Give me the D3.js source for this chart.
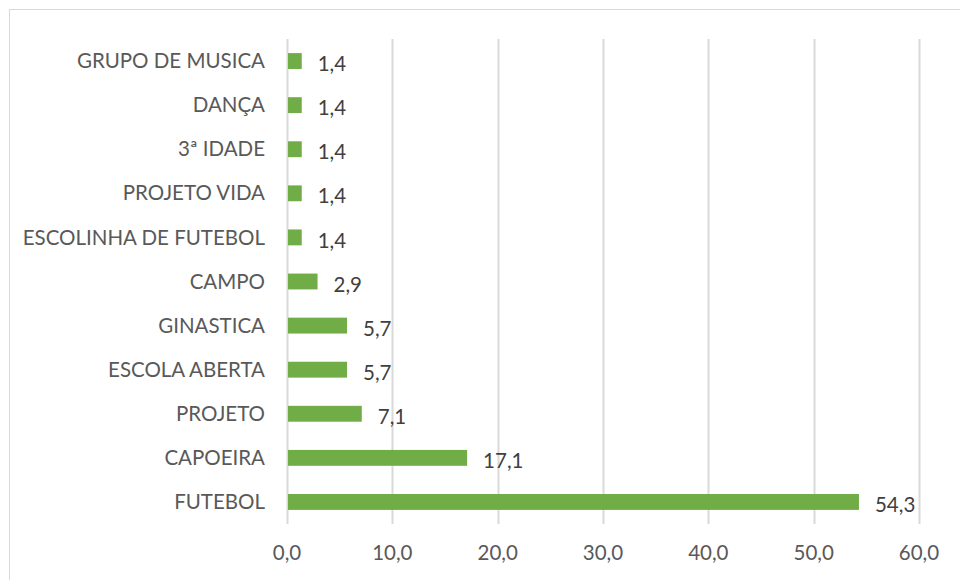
<!DOCTYPE html>
<html>
<head>
<meta charset="utf-8">
<script src="https://cdn.jsdelivr.net/npm/d3@7"></script>
<style>
  body { margin: 0; background: #fff; }
  text { font-family: Lato, "Open Sans", sans-serif; }
</style>
</head>
<body>
<div class="chart"></div>
<script>
var categories = ["GRUPO DE MUSICA", "DANÇA", "3ª IDADE", "PROJETO VIDA", "ESCOLINHA DE FUTEBOL",
  "CAMPO", "GINASTICA", "ESCOLA ABERTA", "PROJETO", "CAPOEIRA", "FUTEBOL"];
var values = [1.4, 1.4, 1.4, 1.4, 1.4, 2.9, 5.7, 5.7, 7.1, 17.1, 54.3];
var ticks = [0, 10, 20, 30, 40, 50, 60];

var svgWidth = 960;
var svgHeight = 580;
var margin = { top: 39, right: 41, bottom: 56, left: 287 };
var width = svgWidth - margin.left - margin.right;
var height = svgHeight - margin.top - margin.bottom;

var fmt = function(v) { return d3.format(".1f")(v).replace(".", ","); };

var svg = d3.select(".chart")
  .append("svg")
  .attr("width", svgWidth)
  .attr("height", svgHeight);

// outer chart border
svg.append("rect")
  .attr("x", 9.5)
  .attr("y", 9.5)
  .attr("width", svgWidth)
  .attr("height", svgHeight)
  .attr("fill", "none")
  .attr("stroke", "#d9d9d9");

var chart = svg.append("g")
  .attr("transform", "translate(" + margin.left + "," + margin.top + ")");

var x = d3.scaleLinear().domain([0, 60]).range([0, width]);
var y = d3.scaleBand().domain(categories).range([0, height]).paddingInner(0.64).paddingOuter(0.32);

// gridlines
chart.selectAll("line.grid")
  .data(ticks)
  .enter().append("line")
  .attr("class", "grid")
  .attr("x1", function(d) { return Math.round(x(d)) + 0.5; })
  .attr("x2", function(d) { return Math.round(x(d)) + 0.5; })
  .attr("y1", 0)
  .attr("y2", height)
  .attr("stroke", "#d9d9d9")
  .attr("stroke-width", 2);

chart.selectAll("rect.bar")
  .data(values)
  .enter().append("rect")
  .attr("class", "bar")
  .attr("x", x(0) + 1)
  .attr("y", function(d, i) { return y(categories[i]); })
  .attr("width", function(d) { return x(d) - x(0) - 1; })
  .attr("height", y.bandwidth())
  .attr("fill", "#70ad47");

// value labels
chart.selectAll("text.val")
  .data(values)
  .enter().append("text")
  .attr("class", "val")
  .attr("x", function(d) { return x(d) + 16; })
  .attr("y", function(d, i) { return y(categories[i]) + y.bandwidth() / 2 + 3; })
  .attr("dy", "0.35em")
  .attr("font-size", "20.5px")
  .attr("fill", "#404040")
  .text(fmt);

// category labels
chart.selectAll("text.cat")
  .data(categories)
  .enter().append("text")
  .attr("class", "cat")
  .attr("x", -22)
  .attr("y", function(d) { return y(d) + y.bandwidth() / 2; })
  .attr("dy", "0.35em")
  .attr("text-anchor", "end")
  .attr("font-size", "20.5px")
  .attr("fill", "#595959")
  .text(function(d) { return d; });

// x tick labels
chart.selectAll("text.tick")
  .data(ticks)
  .enter().append("text")
  .attr("class", "tick")
  .attr("x", function(d) { return x(d); })
  .attr("y", height + 29)
  .attr("dy", "0.35em")
  .attr("text-anchor", "middle")
  .attr("font-size", "20.5px")
  .attr("fill", "#595959")
  .text(fmt);
</script>
</body>
</html>
